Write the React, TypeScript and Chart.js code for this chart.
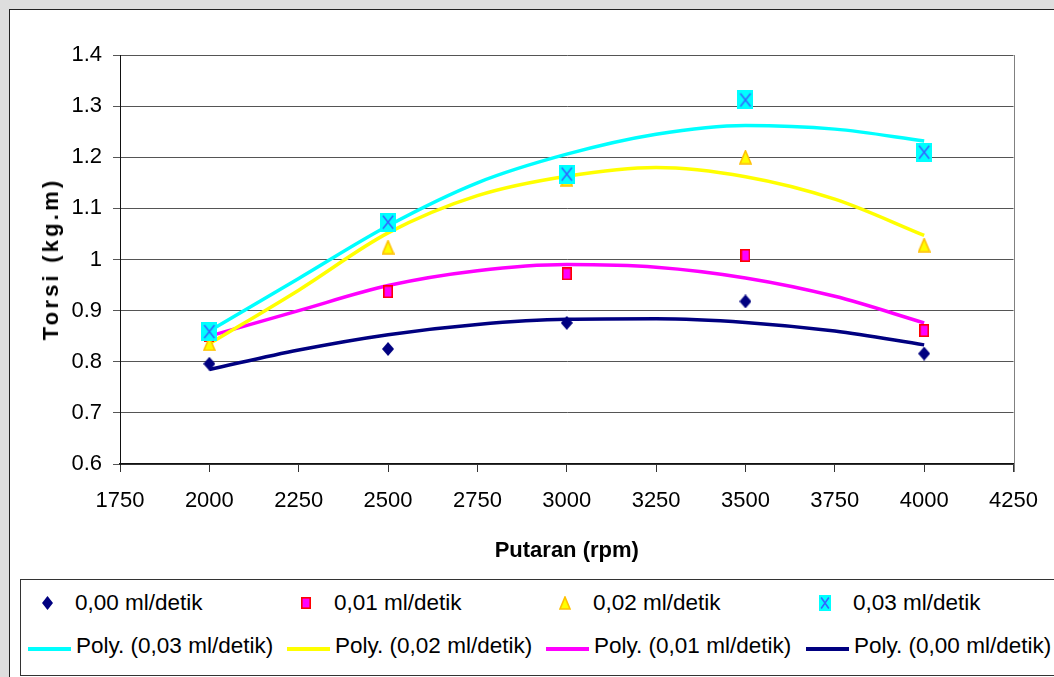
import React, { useEffect, useRef } from 'react';
import { Chart, registerables } from 'chart.js';

Chart.register(...registerables);

// ---- data ----
const rpm = [2000, 2500, 3000, 3500, 4000];
const torque000 = [0.796, 0.825, 0.876, 0.918, 0.816];
const torque001 = [0.851, 0.937, 0.972, 1.008, 0.861];
const torque002 = [0.835, 1.024, 1.157, 1.2, 1.028];
const torque003 = [0.859, 1.073, 1.167, 1.312, 1.21];

const trendRpm = [2000, 2250, 2500, 2750, 3000, 3250, 3500, 3750, 4000];
const trend003 = [0.86, 0.963, 1.066, 1.15, 1.206, 1.245, 1.262, 1.255, 1.232];
const trend002 = [0.835, 0.94, 1.052, 1.125, 1.163, 1.18, 1.162, 1.118, 1.047];
const trend001 = [0.85, 0.9, 0.949, 0.978, 0.99, 0.985, 0.964, 0.928, 0.876];
const trend000 = [0.785, 0.823, 0.853, 0.873, 0.883, 0.884, 0.877, 0.86, 0.833];

const xTickValues = [1750, 2000, 2250, 2500, 2750, 3000, 3250, 3500, 3750, 4000, 4250];
const xTickLabels = ['1750', '2000', '2250', '2500', '2750', '3000', '3250', '3500', '3750', '4000', '4250'];
const yTickValues = [0.6, 0.7, 0.8, 0.9, 1.0, 1.1, 1.2, 1.3, 1.4];
const yTickLabels = ['0.6', '0.7', '0.8', '0.9', '1', '1.1', '1.2', '1.3', '1.4'];

const seriesLabels = ['0,00 ml/detik', '0,01 ml/detik', '0,02 ml/detik', '0,03 ml/detik'];
const trendLabels = ['Poly. (0,03 ml/detik)', 'Poly. (0,02 ml/detik)', 'Poly. (0,01 ml/detik)', 'Poly. (0,00 ml/detik)'];

const xTitle = 'Putaran (rpm)';
const yTitle = 'Torsi (kg.m)';

// ---- styles ----
const FONT = '"Liberation Sans", Arial, sans-serif';
const NAVY = '#000080';
const MAGENTA = '#FF00FF';
const YELLOW = '#FFFF00';
const CYAN = '#00FFFF';

type Kind = 'diamond' | 'square' | 'triangle' | 'xsquare';

function makeMarker(kind: Kind, w: number, h: number): HTMLCanvasElement {
  const c = document.createElement('canvas');
  c.width = w;
  c.height = h;
  const g = c.getContext('2d') as CanvasRenderingContext2D;
  if (kind === 'diamond') {
    g.fillStyle = NAVY;
    g.beginPath();
    g.moveTo(w / 2, 0);
    g.lineTo(w, h / 2);
    g.lineTo(w / 2, h);
    g.lineTo(0, h / 2);
    g.closePath();
    g.fill();
  } else if (kind === 'square') {
    g.fillStyle = MAGENTA;
    g.fillRect(0, 0, w, h);
    g.strokeStyle = '#FF0000';
    g.lineWidth = 1.6;
    g.strokeRect(0.8, 0.8, w - 1.6, h - 1.6);
  } else if (kind === 'triangle') {
    g.fillStyle = YELLOW;
    g.strokeStyle = '#FFC000';
    g.lineWidth = 1.6;
    g.beginPath();
    g.moveTo(w / 2, 1);
    g.lineTo(w - 1, h - 1);
    g.lineTo(1, h - 1);
    g.closePath();
    g.fill();
    g.stroke();
  } else {
    g.fillStyle = CYAN;
    g.fillRect(0, 0, w, h);
    g.strokeStyle = '#3366FF';
    g.lineWidth = 1.6;
    const mx = w * 0.18;
    const my = h * 0.16;
    g.beginPath();
    g.moveTo(mx, my);
    g.lineTo(w - mx, h - my);
    g.moveTo(w - mx, my);
    g.lineTo(mx, h - my);
    g.stroke();
  }
  return c;
}

const frameLines = {
  id: 'frameLines',
  beforeDatasetsDraw(chart: any) {
    const { ctx, chartArea: a } = chart;
    ctx.save();
    ctx.strokeStyle = '#808080';
    ctx.lineWidth = 1;
    ctx.beginPath();
    ctx.moveTo(Math.round(a.right) + 0.5, a.top);
    ctx.lineTo(Math.round(a.right) + 0.5, a.bottom + 8);
    ctx.stroke();
    ctx.restore();
  },
};

const pts = (xs: number[], ys: number[]) => xs.map((x, i) => ({ x, y: ys[i] }));

export default function App() {
  const canvasRef = useRef<HTMLCanvasElement | null>(null);

  useEffect(() => {
    const canvas = canvasRef.current;
    if (!canvas) return;
    const mDiamond = makeMarker('diamond', 12, 14);
    const mSquare = makeMarker('square', 10, 13);
    const mTriangle = makeMarker('triangle', 13, 15);
    const mX = makeMarker('xsquare', 16, 19);

    const trendDs = (label: string, data: number[], color: string, order: number) => ({
      label,
      data: pts(trendRpm, data),
      showLine: true,
      borderColor: color,
      backgroundColor: color,
      borderWidth: 3.5,
      pointRadius: 0,
      cubicInterpolationMode: 'monotone',
      order,
    });
    const markerDs = (label: string, data: number[], style: HTMLCanvasElement, order: number) => ({
      label,
      data: pts(rpm, data),
      showLine: false,
      pointStyle: style,
      pointRadius: 8,
      order,
    });

    const chart = new Chart(canvas, {
      type: 'scatter',
      data: {
        datasets: [
          markerDs(seriesLabels[0], torque000, mDiamond, 4),
          markerDs(seriesLabels[1], torque001, mSquare, 3),
          markerDs(seriesLabels[2], torque002, mTriangle, 2),
          markerDs(seriesLabels[3], torque003, mX, 1),
          trendDs(trendLabels[3], trend000, NAVY, 13),
          trendDs(trendLabels[2], trend001, MAGENTA, 12),
          trendDs(trendLabels[1], trend002, YELLOW, 11),
          trendDs(trendLabels[0], trend003, CYAN, 10),
        ] as any,
      },
      options: {
        animation: false,
        responsive: false,
        maintainAspectRatio: false,
        layout: { padding: { top: 55, left: 0, right: 40, bottom: 0 } },
        plugins: {
          legend: { display: false },
          tooltip: { enabled: false },
        },
        scales: {
          x: {
            type: 'linear',
            min: 1750,
            max: 4250,
            afterBuildTicks: (scale: any) => {
              scale.ticks = xTickValues.map((v) => ({ value: v }));
            },
            afterFit: (scale: any) => {
              scale.height = 113;
            },
            ticks: {
              color: '#000',
              font: { family: FONT, size: 22 },
              padding: 16,
              maxRotation: 0,
              autoSkip: false,
              callback: (_v: any, i: number) => xTickLabels[i],
            },
            grid: {
              drawOnChartArea: false,
              drawTicks: true,
              tickLength: 8,
              color: '#333',
              lineWidth: 1,
            },
            border: { display: true, color: '#111', width: 1.5 },
            title: {
              display: true,
              text: xTitle,
              color: '#000',
              font: { family: FONT, size: 22, weight: 'bold' },
              padding: { top: 0, bottom: 13 },
            },
          },
          y: {
            type: 'linear',
            min: 0.6,
            max: 1.4,
            afterBuildTicks: (scale: any) => {
              scale.ticks = yTickValues.map((v) => ({ value: v }));
            },
            afterFit: (scale: any) => {
              scale.width = 120;
            },
            ticks: {
              color: '#000',
              font: { family: FONT, size: 22 },
              padding: 11,
              autoSkip: false,
              callback: (_v: any, i: number) => yTickLabels[i],
            },
            grid: {
              drawOnChartArea: true,
              drawTicks: true,
              tickLength: 7,
              color: '#555',
              lineWidth: 1,
            },
            border: { display: true, color: '#111', width: 1 },
          },
        },
      } as any,
      plugins: [frameLines],
    });
    return () => chart.destroy();
  }, []);

  const legendMarkers: Kind[] = ['diamond', 'square', 'triangle', 'xsquare'];
  const legendMarkerSizes: [number, number][] = [
    [11, 14],
    [10, 12],
    [12, 14],
    [12, 16],
  ];
  const trendColors = [CYAN, YELLOW, MAGENTA, NAVY];
  const colLeft = [75, 334, 593, 853];

  return (
    <div
      style={{
        position: 'fixed',
        left: 0,
        top: 0,
        width: 1054,
        height: 677,
        overflow: 'hidden',
        background: '#dedede',
        fontFamily: FONT,
      }}
    >
      <div
        style={{
          position: 'absolute',
          left: 9,
          top: 9,
          width: 1060,
          height: 680,
          border: '1px solid #222',
          background: '#fff',
          boxSizing: 'border-box',
        }}
      />
      <canvas
        ref={canvasRef}
        width={1054}
        height={577}
        style={{ position: 'absolute', left: 0, top: 0, width: 1054, height: 577 }}
      />
      <div
        style={{
          position: 'absolute',
          left: 51,
          top: 259,
          transform: 'translate(-50%, -50%) rotate(-90deg)',
          fontWeight: 'bold',
          fontSize: 22,
          letterSpacing: '3.2px',
          whiteSpace: 'nowrap',
          color: '#000',
          lineHeight: '24px',
        }}
      >
        {yTitle}
      </div>
      <div
        style={{
          position: 'absolute',
          left: 20,
          top: 579,
          width: 1060,
          height: 97,
          border: '1px solid #333',
          background: '#fff',
          boxSizing: 'border-box',
        }}
      />
      {seriesLabels.map((label, i) => {
        const [w, h] = legendMarkerSizes[i];
        const src = makeMarker(legendMarkers[i], w, h).toDataURL();
        return (
          <React.Fragment key={'s' + i}>
            <img
              src={src}
              width={w}
              height={h}
              style={{ position: 'absolute', left: colLeft[i] - 28 - w / 2, top: 603 - h / 2 }}
            />
            <div
              style={{
                position: 'absolute',
                left: colLeft[i],
                top: 589,
                fontSize: 22.5,
                lineHeight: '28px',
                whiteSpace: 'nowrap',
                color: '#000',
              }}
            >
              {label}
            </div>
          </React.Fragment>
        );
      })}
      {trendLabels.map((label, i) => (
        <React.Fragment key={'t' + i}>
          <div
            style={{
              position: 'absolute',
              left: colLeft[i] - 47,
              top: 647,
              width: 43,
              height: 4,
              background: trendColors[i],
            }}
          />
          <div
            style={{
              position: 'absolute',
              left: colLeft[i] + 1,
              top: 632,
              fontSize: 22.5,
              lineHeight: '28px',
              whiteSpace: 'nowrap',
              color: '#000',
            }}
          >
            {label}
          </div>
        </React.Fragment>
      ))}
    </div>
  );
}
